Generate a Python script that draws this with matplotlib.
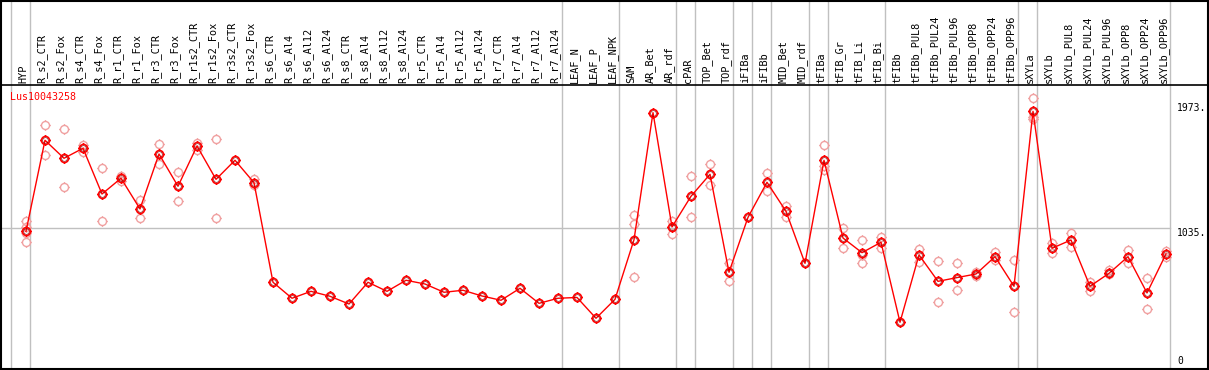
import numpy as np
import matplotlib.pyplot as plt
from matplotlib.path import Path

# sample names (column headers)
samples = ["HYP", "R_s2_CTR", "R_s2_Fox", "R_s4_CTR", "R_s4_Fox", "R_r1_CTR", "R_r1_Fox",
           "R_r3_CTR", "R_r3_Fox", "R_r1s2_CTR", "R_r1s2_Fox", "R_r3s2_CTR", "R_r3s2_Fox",
           "R_s6_CTR", "R_s6_Al4", "R_s6_Al12", "R_s6_Al24",
           "R_s8_CTR", "R_s8_Al4", "R_s8_Al12", "R_s8_Al24",
           "R_r5_CTR", "R_r5_Al4", "R_r5_Al12", "R_r5_Al24",
           "R_r7_CTR", "R_r7_Al4", "R_r7_Al12", "R_r7_Al24",
           "LEAF_N", "LEAF_P", "LEAF_NPK", "SAM", "AR_Bet", "AR_rdf", "cPAR",
           "TOP_Bet", "TOP_rdf", "iFIBa", "iFIBb", "MID_Bet", "MID_rdf",
           "tFIBa", "tFIB_Gr", "tFIB_Li", "tFIB_Bi", "tFIBb",
           "tFIBb_PUL8", "tFIBb_PUL24", "tFIBb_PUL96", "tFIBb_OPP8", "tFIBb_OPP24", "tFIBb_OPP96",
           "sXYLa", "sXYLb",
           "sXYLb_PUL8", "sXYLb_PUL24", "sXYLb_PUL96", "sXYLb_OPP8", "sXYLb_OPP24", "sXYLb_OPP96"]

# mean expression per sample
means = [1010, 1693, 1558, 1633, 1290, 1408, 1178, 1590, 1348, 1650, 1400, 1543, 1375,
         628, 508, 560, 523, 465, 628, 560, 643, 615, 553, 568, 525, 493, 583, 470, 508,
         514, 358, 500, 947, 1900, 1043, 1273, 1438, 703, 1115, 1378, 1160, 770,
         1543, 960, 850, 928, 328, 833, 635, 663, 690, 820, 598,
         1910, 883, 945, 598, 695, 820, 548, 840]

# individual replicates (sample index -> values)
replicates = {
    0: [1088, 1040, 995, 933],
    1: [1805, 1580], 2: [1775, 1340], 3: [1658, 1605], 4: [1483, 1085],
    5: [1425, 1390], 6: [1245, 1108], 7: [1663, 1518], 8: [1453, 1235],
    9: [1675, 1618], 10: [1700, 1108], 12: [1400, 1358],
    32: [1130, 1063, 665], 34: [1088, 990], 35: [1423, 1115], 36: [1513, 1355],
    37: [773, 640], 39: [1445, 1310], 40: [1200, 1120],
    42: [1655, 1498, 1468], 43: [1033, 883], 44: [943, 835, 775], 45: [970, 888],
    47: [878, 783], 48: [785, 478], 49: [770, 568], 50: [705, 673], 51: [855, 793],
    52: [793, 403], 53: [2008, 1871, 1853], 54: [920, 845], 55: [995, 890],
    56: [630, 563], 57: [718, 690], 58: [870, 775], 59: [658, 428], 60: [860, 821],
}

# group separators drawn after these sample indices
separators = [-1, 0, 28, 31, 34, 35, 37, 38, 39, 41, 42, 45, 52, 53, 60]

gene = "Lus10043258"
ytick_vals = [1973, 1035]

# pixel helpers (figure is 1209 x 370 px)
def px_x(p):
    return (p - 26) / 19.0

def px_y(p):
    return (366 - p) * 7.5

# circle marker with four small spokes
circ = Path.unit_circle()
spokes = []
for dx, dy in [(0, 1), (0, -1), (1, 0), (-1, 0)]:
    spokes.append(Path([(dx, dy), (dx * 1.3, dy * 1.3)], [Path.MOVETO, Path.LINETO]))
mark = Path.make_compound_path(circ, *spokes)

fig = plt.figure(figsize=(12.09, 3.70), dpi=100)
ax = fig.add_axes([0, 0, 1, 1])
ax.set_xlim(px_x(0), px_x(1209))
ax.set_ylim(px_y(370), px_y(0))
ax.axis("off")

font = "DejaVu Sans Mono"
grey = "#c0c0c0"

# vertical separators over full height
for s in separators:
    ax.axvline(s + 0.21, color=grey, lw=1, zorder=1)

# horizontal grid line at mid value
ax.plot([px_x(0), px_x(1170)], [1035, 1035], color=grey, lw=1, zorder=1)

# header band
ax.axhline(px_y(85), color="black", lw=1.2, zorder=2)
for i, name in enumerate(samples):
    ax.text(i - 0.16, px_y(83), name, rotation=90, ha="center", va="bottom",
            fontsize=7.4, family=font, color="black")

# borders
ax.axvline(px_x(1), color="black", lw=1.5)
ax.axvline(px_x(1207.5), color="black", lw=1.5)
ax.axhline(px_y(0.5), color="black", lw=1.5)
ax.axhline(px_y(369), color="black", lw=1.5)

# replicates
rx, ry = [], []
for i, vals in replicates.items():
    rx += [i] * len(vals)
    ry += vals
ax.plot(rx, ry, ls="none", marker=mark, ms=7.5, mfc="none", mec="#f0a0a0", mew=1, zorder=3)

# mean line
x = np.arange(len(samples))
ax.plot(x, means, color="red", lw=1, zorder=4)
ax.plot(x, means, ls="none", marker=mark, ms=7.5, mfc="none", mec="red", mew=1.2, zorder=5)
ax.plot(x, means, ls="none", marker="o", ms=4, mfc="none", mec="#800000", mew=0.4, zorder=5)

# labels
ax.text(px_x(10), px_y(92), gene, color="red", fontsize=7.2, family=font, ha="left", va="top")
for v in ytick_vals:
    ax.text(px_x(1177), v, f"{v}.", fontsize=7, family=font, ha="left", va="top")
ax.text(px_x(1177), 0, "0", fontsize=7, family=font, ha="left", va="bottom")

fig.savefig("out.png", dpi=100)
